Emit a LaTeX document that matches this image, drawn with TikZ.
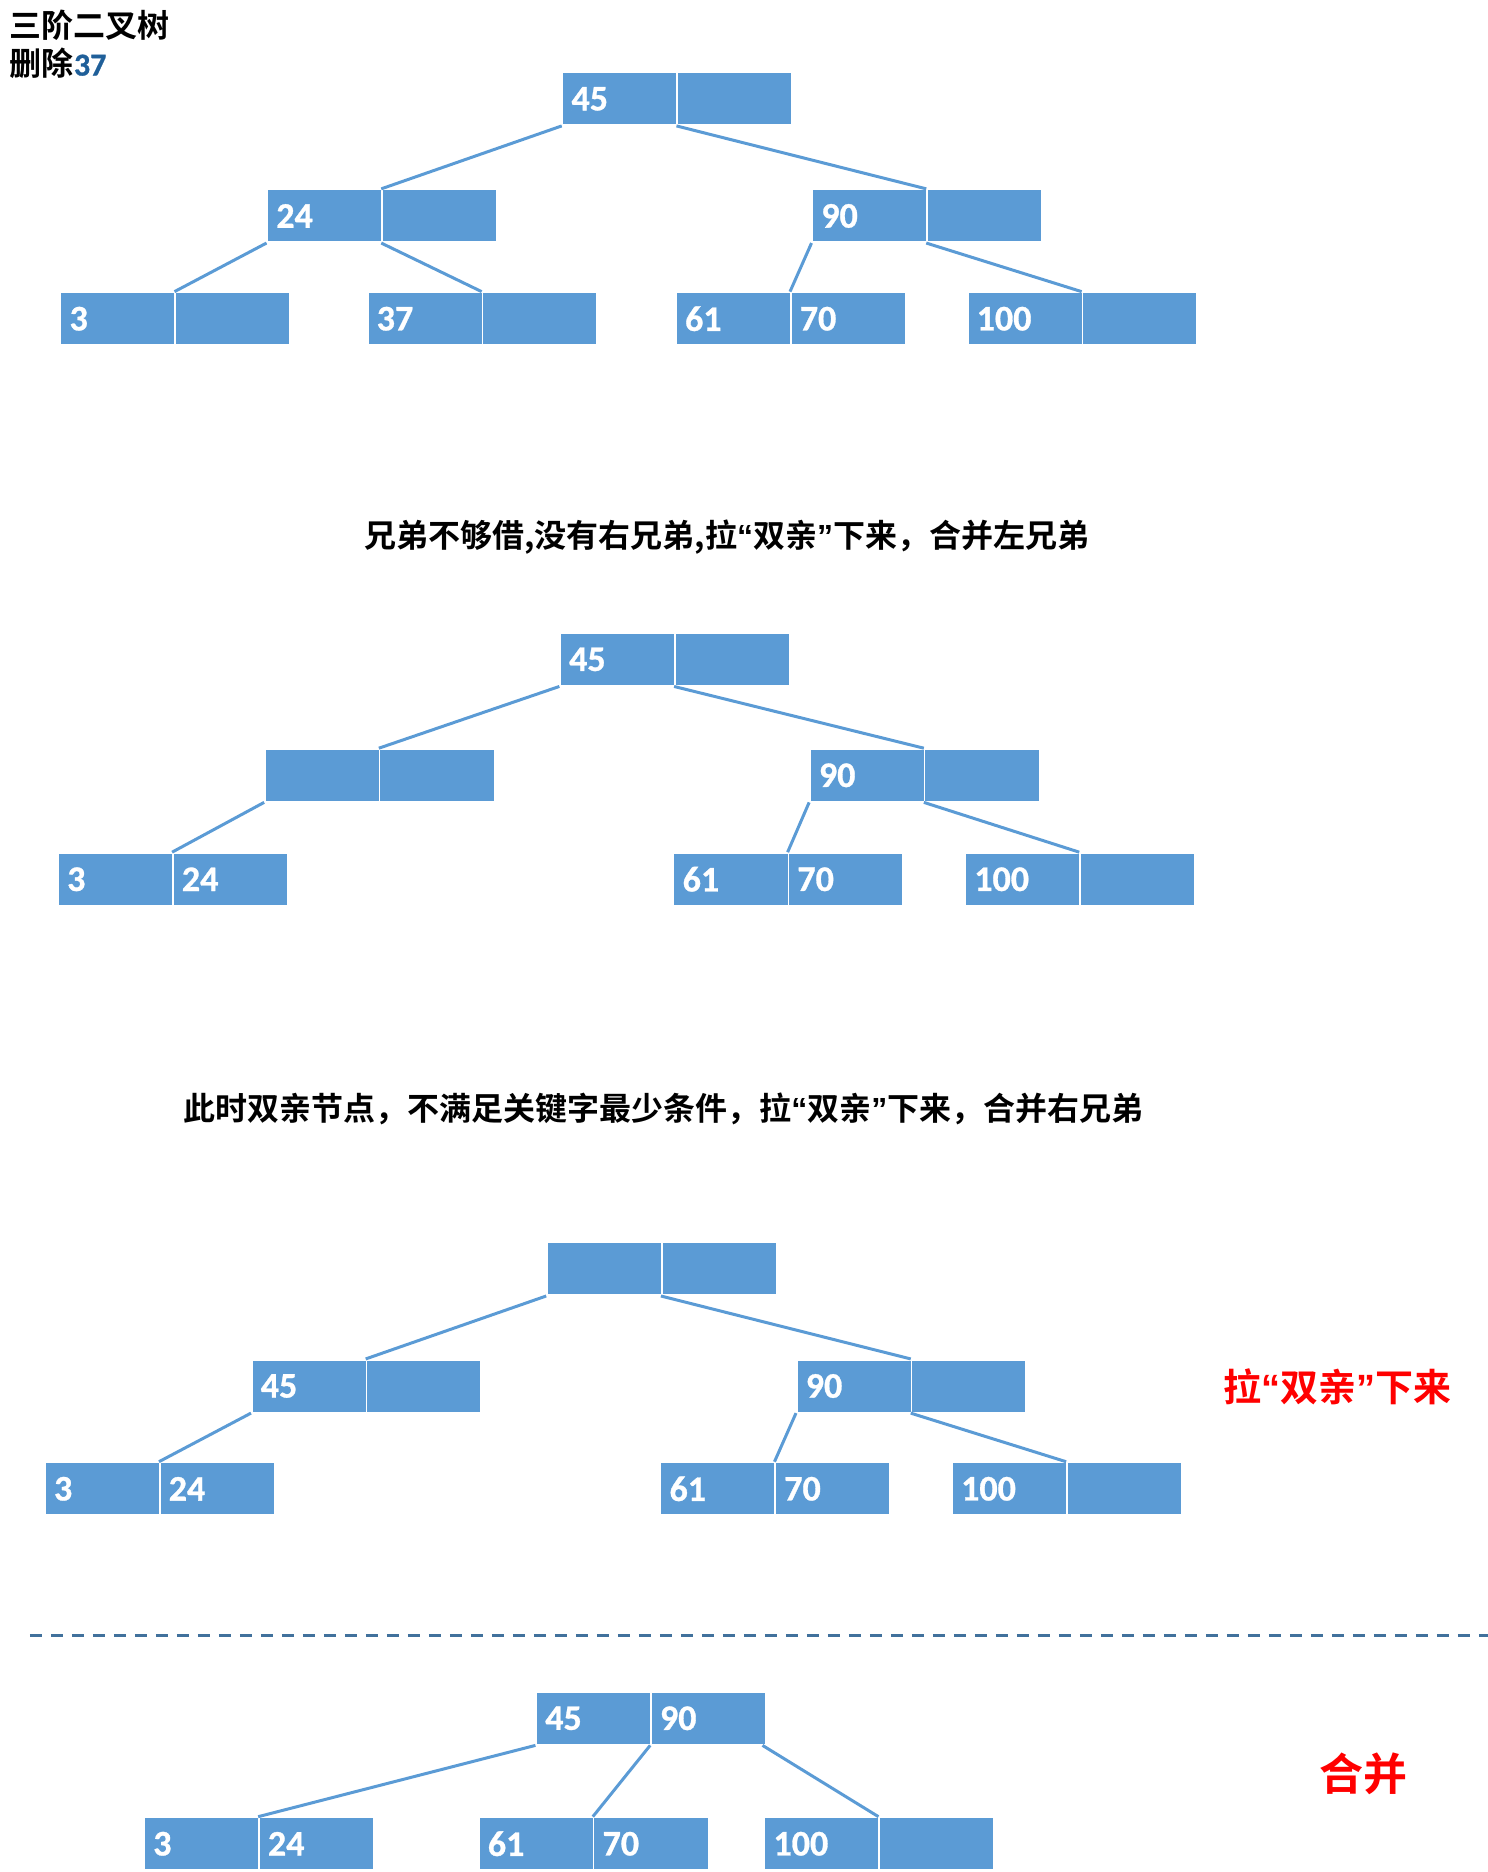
\documentclass[tikz,border=0pt]{standalone}
\usepackage{fontspec}
\setmainfont{Carlito}[BoldFont={Carlito Bold}, BoldFeatures={FakeBold=0.8}]
\newfontfamily\cjk{Noto Sans CJK SC}[BoldFont={* Bold}]
\newfontfamily\qfont{Liberation Sans}
\definecolor{nodeblue}{HTML}{5B9BD5}
\definecolor{dashblue}{HTML}{41719C}
\definecolor{numblue}{HTML}{1F5F99}
\newcommand\oq{{\qfont\bfseries “}}
\newcommand\cq{{\qfont\bfseries ”}}
\newcommand\bnode[5]{%
  \node[half] (#1l) at (#2,#3) {\raisebox{-1.2pt}{#4}};
  \node[half] (#1r) at (#2+96,#3) {\raisebox{-1.2pt}{#5}};
}
\begin{document}
\begin{tikzpicture}[x=0.5976pt,y=-0.5976pt,
  half/.style={fill=nodeblue, draw=white, line width=0.8pt, anchor=north west,
    minimum width=57.37pt, minimum height=26.3pt, inner xsep=4.5pt, inner ysep=0pt,
    text width=48.37pt, align=left, text=white,
    font=\rmfamily\bfseries\fontsize{18}{18}\selectfont},
  link/.style={draw=nodeblue, line width=1.5pt},
  sepline/.style={draw=dashblue, line width=1.5pt, dash pattern=on 6pt off 4.5pt},
  head/.style={inner sep=0pt, font=\cjk\bfseries\fontsize{16}{16}\selectfont},
  redlbl/.style={inner sep=0pt, text=red, font=\cjk\bfseries\fontsize{19}{19}\selectfont}
]
\useasboundingbox (0,0) rectangle (1245,1566.3);

% title
\node[head, anchor=west] (title) at (8,21) {三阶二叉树};
\node[head, anchor=west] (sub) at (8,53) {删除{\rmfamily\bfseries\color{numblue}37}};

% tree 1
\bnode{a1}{470}{60}{45}{}
\bnode{a2}{223}{158}{24}{}
\bnode{a3}{679}{158}{90}{}
\bnode{a4}{50}{244}{3}{}
\bnode{a5}{307}{244}{37}{}
\bnode{a6}{565}{244}{61}{70}
\bnode{a7}{809}{244}{100}{}
\draw[link] (a1l.south west) -- (a2r.north west);
\draw[link] (a1r.south west) -- (a3r.north west);
\draw[link] (a2l.south west) -- (a4r.north west);
\draw[link] (a2r.south west) -- (a5r.north west);
\draw[link] (a3l.south west) -- (a6r.north west);
\draw[link] (a3r.south west) -- (a7r.north west);

\node[head] (h1) at (608,449) {兄弟不够借,没有右兄弟,拉\oq 双亲\cq 下来，合并左兄弟};

% tree 2
\bnode{b1}{468}{529}{45}{}
\bnode{b2}{221}{626}{}{}
\bnode{b3}{677}{626}{90}{}
\bnode{b4}{48}{713}{3}{24}
\bnode{b6}{563}{713}{61}{70}
\bnode{b7}{807}{713}{100}{}
\draw[link] (b1l.south west) -- (b2r.north west);
\draw[link] (b1r.south west) -- (b3r.north west);
\draw[link] (b2l.south west) -- (b4r.north west);
\draw[link] (b3l.south west) -- (b6r.north west);
\draw[link] (b3r.south west) -- (b7r.north west);

\node[head] (h2) at (555,928) {此时双亲节点，不满足关键字最少条件，拉\oq 双亲\cq 下来，合并右兄弟};

% tree 3
\bnode{c1}{457}{1039}{}{}
\bnode{c2}{210}{1137}{45}{}
\bnode{c3}{666}{1137}{90}{}
\bnode{c4}{37}{1223}{3}{24}
\bnode{c6}{552}{1223}{61}{70}
\bnode{c7}{796}{1223}{100}{}
\draw[link] (c1l.south west) -- (c2r.north west);
\draw[link] (c1r.south west) -- (c3r.north west);
\draw[link] (c2l.south west) -- (c4r.north west);
\draw[link] (c3l.south west) -- (c6r.north west);
\draw[link] (c3r.south west) -- (c7r.north west);

\node[redlbl] (r1) at (1119,1160) {拉\oq 双亲\cq 下来};

% separator
\coordinate (sl) at (25,1368);
\coordinate (sr) at (1245,1368);
\draw[sepline] (sl) -- (sr);

% tree 4
\bnode{d1}{448}{1415}{45}{90}
\bnode{d4}{120}{1520}{3}{24}
\bnode{d6}{400}{1520}{61}{70}
\bnode{d7}{639}{1520}{100}{}
\draw[link] (d1l.south west) -- (d4r.north west);
\draw[link] (d1r.south west) -- (d6r.north west);
\draw[link] ([xshift=-2pt]d1r.south east) -- (d7r.north west);

\node[redlbl, font=\cjk\bfseries\fontsize{22}{22}\selectfont] (r2) at (1141,1484) {合并};
\end{tikzpicture}
\end{document}
